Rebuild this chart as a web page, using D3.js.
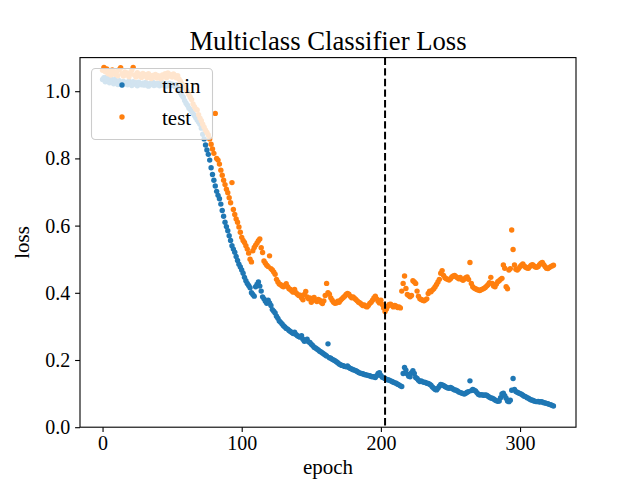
<!DOCTYPE html>
<html>
<head>
<meta charset="utf-8">
<script src="https://cdn.jsdelivr.net/npm/d3@7"></script>
<style>
  body { margin: 0; background: #fff; }
  text { font-family: "Liberation Serif", "Times New Roman", serif; fill: #000; }
</style>
</head>
<body>
<div id="chart"></div>
<script>
// loss per epoch
var trainLoss = [
  1.035,1.040,1.028,1.042,1.031,1.025,1.038,1.030,1.022,1.035,
  1.027,1.020,1.031,1.024,1.018,1.029,1.022,1.026,1.019,1.030,
  1.024,1.017,1.028,1.021,1.025,1.016,1.027,1.022,1.019,1.024,
  1.018,1.026,1.021,1.015,1.023,1.020,1.027,1.017,1.022,1.019,
  1.024,1.016,1.021,1.025,1.018,1.022,1.015,1.020,1.024,1.017,
  1.021,1.018,1.014,1.019,1.010,1.003,0.995,0.988,0.982,0.972,
  0.964,0.958,0.950,0.946,0.940,0.934,0.928,0.921,0.914,0.908,
  0.902,0.890,0.872,0.858,0.840,0.825,0.812,0.795,0.772,0.752,
  0.735,0.718,0.702,0.690,0.680,0.664,0.645,0.628,0.610,0.597,
  0.585,0.570,0.556,0.540,0.530,0.521,0.508,0.496,0.485,0.477,
  0.468,0.458,0.446,0.436,0.428,0.422,0.415,0.400,0.395,0.390,
  0.418,0.425,0.432,0.420,0.405,0.388,0.382,0.375,0.369,0.378,
  0.370,0.362,0.350,0.345,0.340,0.330,0.324,0.316,0.312,0.307,
  0.302,0.298,0.294,0.292,0.288,0.285,0.282,0.279,0.283,0.276,
  0.272,0.270,0.268,0.272,0.262,0.256,0.258,0.262,0.254,0.252,
  0.247,0.243,0.238,0.236,0.233,0.230,0.226,0.224,0.221,0.218,
  0.215,0.212,0.248,0.207,0.205,0.202,0.200,0.198,0.195,0.192,
  0.188,0.186,0.184,0.183,0.181,0.180,0.182,0.178,0.175,0.173,
  0.171,0.170,0.168,0.166,0.163,0.161,0.160,0.159,0.157,0.156,
  0.155,0.154,0.153,0.151,0.150,0.150,0.148,0.153,0.160,0.162,
  0.154,0.149,0.147,0.145,0.142,0.141,0.140,0.138,0.136,0.134,
  0.132,0.131,0.128,0.126,0.123,0.121,0.160,0.178,0.170,0.158,
  0.152,0.150,0.162,0.168,0.160,0.148,0.145,0.140,0.136,0.138,
  0.135,0.134,0.133,0.131,0.130,0.128,0.125,0.120,0.116,0.112,
  0.111,0.116,0.122,0.127,0.126,0.124,0.121,0.119,0.117,0.116,
  0.118,0.116,0.113,0.111,0.110,0.108,0.105,0.103,0.102,0.100,
  0.099,0.101,0.104,0.106,0.138,0.109,0.112,0.110,0.108,0.103,
  0.098,0.096,0.097,0.096,0.095,0.096,0.095,0.092,0.089,0.087,
  0.086,0.084,0.081,0.079,0.077,0.078,0.088,0.099,0.101,0.094,
  0.086,0.078,0.076,0.080,0.110,0.145,0.112,0.106,0.104,0.102,
  0.100,0.098,0.095,0.092,0.091,0.088,0.086,0.083,0.081,0.080,
  0.078,0.077,0.076,0.077,0.075,0.076,0.075,0.073,0.072,0.071,
  0.070,0.068,0.067,0.065,0.063
];

var testLoss = [
  1.062,1.071,1.058,1.066,1.052,1.060,1.048,1.063,1.055,1.050,
  1.058,1.046,1.064,1.070,1.052,1.045,1.057,1.049,1.054,1.043,
  1.051,1.062,1.071,1.048,1.042,1.055,1.046,1.050,1.041,1.053,
  1.045,1.049,1.040,1.052,1.044,1.038,1.047,1.042,1.050,1.039,
  1.046,1.041,1.037,1.048,1.043,1.052,1.040,1.054,1.045,1.049,
  1.042,1.051,1.047,1.040,1.046,1.036,1.030,1.022,1.017,1.010,
  1.004,0.998,0.990,0.982,0.975,0.962,0.954,0.947,0.944,0.930,
  0.920,0.912,0.902,0.893,0.884,0.877,0.870,0.858,0.842,0.828,
  0.815,0.934,0.800,0.795,0.783,0.765,0.750,0.735,0.722,0.708,
  0.698,0.683,0.668,0.728,0.648,0.633,0.620,0.610,0.596,0.580,
  0.565,0.556,0.550,0.540,0.530,0.518,0.500,0.492,0.525,0.535,
  0.542,0.548,0.555,0.560,0.534,0.520,0.495,0.488,0.482,0.478,
  0.510,0.472,0.468,0.462,0.455,0.440,0.432,0.426,0.424,0.420,
  0.418,0.422,0.427,0.418,0.412,0.410,0.405,0.402,0.410,0.400,
  0.396,0.392,0.393,0.385,0.379,0.395,0.404,0.388,0.382,0.385,
  0.372,0.380,0.386,0.378,0.374,0.380,0.378,0.372,0.368,0.376,
  0.392,0.428,0.400,0.396,0.385,0.378,0.372,0.369,0.370,0.375,
  0.372,0.378,0.382,0.386,0.390,0.395,0.398,0.396,0.390,0.385,
  0.388,0.384,0.380,0.376,0.372,0.370,0.366,0.362,0.364,0.360,
  0.358,0.362,0.368,0.372,0.378,0.385,0.390,0.382,0.375,0.370,
  0.378,0.365,0.355,0.344,0.352,0.360,0.365,0.366,0.362,0.358,
  0.362,0.360,0.356,0.358,0.355,0.405,0.428,0.450,0.413,0.395,
  0.392,0.388,0.392,0.436,0.432,0.428,0.405,0.390,0.382,0.380,
  0.378,0.376,0.379,0.382,0.398,0.405,0.403,0.408,0.412,0.418,
  0.425,0.432,0.440,0.458,0.466,0.452,0.445,0.442,0.440,0.438,
  0.442,0.447,0.450,0.452,0.448,0.445,0.442,0.446,0.440,0.437,
  0.441,0.445,0.447,0.440,0.490,0.428,0.418,0.414,0.412,0.410,
  0.408,0.407,0.409,0.411,0.413,0.416,0.420,0.424,0.430,0.446,
  0.428,0.420,0.418,0.426,0.433,0.436,0.440,0.443,0.483,0.473,
  0.418,0.412,0.468,0.472,0.587,0.529,0.483,0.470,0.468,0.472,
  0.478,0.482,0.486,0.480,0.476,0.474,0.473,0.478,0.482,0.484,
  0.480,0.477,0.476,0.478,0.484,0.488,0.490,0.484,0.478,0.473,
  0.472,0.475,0.478,0.480,0.482
];

var bestEpoch = 203;
var xTicks = [0, 100, 200, 300];
var yTicks = [0.0, 0.2, 0.4, 0.6, 0.8, 1.0];
var seriesNames = ["train", "test"];
var seriesColors = ["#1f77b4", "#ff7f0e"];

var W = 640, H = 480;
// plot area (matplotlib default subplot params)
var plotL = 80, plotR = 576, plotT = 57.6, plotB = 427.2;
var dotR = 2.7;

var svg = d3.select("#chart")
  .append("svg")
  .attr("width", W)
  .attr("height", H);

var x = d3.scaleLinear()
  .domain([-16.2, 340.2])
  .range([plotL, plotR]);

var y = d3.scaleLinear()
  .domain([0, 1.1])
  .range([plotB, plotT]);

// points: train first, test drawn over it
[trainLoss, testLoss].forEach(function(vals, k) {
  svg.append("g")
    .attr("fill", seriesColors[k])
    .selectAll("circle")
    .data(vals)
    .enter().append("circle")
      .attr("cx", function(d, i) { return x(i); })
      .attr("cy", function(d) { return y(d); })
      .attr("r", dotR);
});

// best epoch marker
svg.append("line")
  .attr("x1", x(bestEpoch)).attr("x2", x(bestEpoch))
  .attr("y1", plotT).attr("y2", plotB)
  .attr("stroke", "#000")
  .attr("stroke-width", 2)
  .attr("stroke-dasharray", "7.4,3.2");

// axes
var xAxis = svg.append("g")
  .attr("transform", "translate(0," + plotB + ")")
  .call(d3.axisBottom(x).tickValues(xTicks).tickFormat(d3.format("d"))
    .tickSize(4.9).tickSizeOuter(0).tickPadding(4.2));

var yAxis = svg.append("g")
  .attr("transform", "translate(" + plotL + ",0)")
  .call(d3.axisLeft(y).tickValues(yTicks).tickFormat(d3.format(".1f"))
    .tickSize(4.9).tickSizeOuter(0).tickPadding(4.9));

[xAxis, yAxis].forEach(function(a) {
  a.select(".domain").remove();
  a.selectAll(".tick line").attr("stroke", "#000").attr("stroke-width", 1.1);
  a.selectAll(".tick text")
    .style("font-family", "'Liberation Serif', serif")
    .style("font-size", "20px")
    .attr("fill", "#000");
});

// frame
svg.append("rect")
  .attr("x", plotL).attr("y", plotT)
  .attr("width", plotR - plotL).attr("height", plotB - plotT)
  .attr("fill", "none")
  .attr("stroke", "#000")
  .attr("stroke-width", 1.1);

// title and labels
svg.append("text")
  .attr("x", (plotL + plotR) / 2).attr("y", 50)
  .attr("text-anchor", "middle")
  .style("font-size", "26.7px")
  .text("Multiclass Classifier Loss");

svg.append("text")
  .attr("x", (plotL + plotR) / 2).attr("y", 474)
  .attr("text-anchor", "middle")
  .style("font-size", "21px")
  .text("epoch");

svg.append("text")
  .attr("transform", "translate(29," + ((plotT + plotB) / 2) + ") rotate(-90)")
  .attr("text-anchor", "middle")
  .style("font-size", "21px")
  .text("loss");

// legend
var lg = svg.append("g");
lg.append("rect")
  .attr("x", 91.5).attr("y", 68.5)
  .attr("width", 121).attr("height", 71)
  .attr("rx", 4).attr("ry", 4)
  .attr("fill", "#fff").attr("fill-opacity", 0.8)
  .attr("stroke", "#cccccc").attr("stroke-width", 1.1);

seriesNames.forEach(function(name, k) {
  var cy = 85 + k * 32;
  lg.append("circle")
    .attr("cx", 122).attr("cy", cy).attr("r", dotR)
    .attr("fill", seriesColors[k]);
  lg.append("text")
    .attr("x", 162).attr("y", cy + 8)
    .style("font-size", "21px")
    .text(name);
});
</script>
</body>
</html>
